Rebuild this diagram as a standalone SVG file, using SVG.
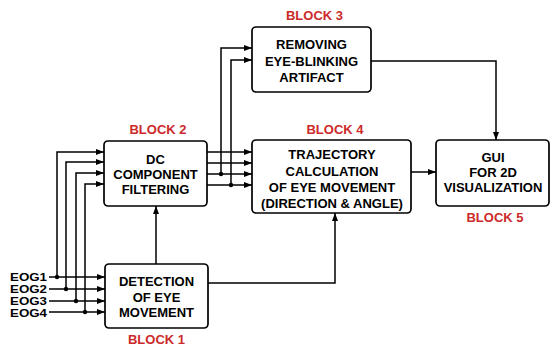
<svg xmlns="http://www.w3.org/2000/svg" width="553" height="347" viewBox="0 0 553 347">
<defs>
<marker id="ah" markerUnits="userSpaceOnUse" markerWidth="8" markerHeight="8" viewBox="0 0 8 8" refX="8" refY="4" orient="auto">
<path d="M0,1 L8,4 L0,7 Z" fill="#000"/>
</marker>
</defs>
<style>
.box{fill:#fff;stroke:#000;stroke-width:1.7}
.t{font-family:"Liberation Sans",Arial,sans-serif;font-weight:bold;font-size:13px;fill:#000;text-anchor:middle}
.lbl{font-family:"Liberation Sans",Arial,sans-serif;font-weight:bold;font-size:13px;fill:#cc2a2a;text-anchor:middle}
.eog{font-family:"Liberation Sans",Arial,sans-serif;font-weight:bold;font-size:10.5px;fill:#000}
.c{fill:none;stroke:#000;stroke-width:1.5}
.a{marker-end:url(#ah)}
.dot{fill:#000}
</style>
<rect width="553" height="347" fill="#fff"/>
<g id="connectors">
<path class="c a" d="M49 277 H105"/>
<path class="c a" d="M49 289 H105"/>
<path class="c a" d="M49 301 H105"/>
<path class="c a" d="M49 312 H105"/>
<path class="c a" d="M57 277 V152 H104"/>
<path class="c a" d="M66 289 V162 H104"/>
<path class="c a" d="M76 301 V173 H104"/>
<path class="c a" d="M85 312 V184 H104"/>
<path class="c a" d="M207 152 H252"/>
<path class="c a" d="M207 163 H252"/>
<path class="c a" d="M207 174 H252"/>
<path class="c a" d="M207 185 H252"/>
<path class="c a" d="M221 174 V48 H252"/>
<path class="c a" d="M231 185 V60 H252"/>
<path class="c a" d="M156 264 V206"/>
<path class="c a" d="M208 283 H335 V213"/>
<path class="c a" d="M411 172 H436"/>
<path class="c a" d="M371 61 H496 V140"/>
<circle class="dot" cx="57" cy="277" r="2.2"/>
<circle class="dot" cx="66" cy="289" r="2.2"/>
<circle class="dot" cx="76" cy="301" r="2.2"/>
<circle class="dot" cx="85" cy="312" r="2.2"/>
<circle class="dot" cx="221" cy="174" r="2.2"/>
<circle class="dot" cx="231" cy="185" r="2.2"/>
</g>
<g id="eog-labels">
<text class="eog" x="10" y="281" textLength="37" lengthAdjust="spacingAndGlyphs">EOG1</text>
<text class="eog" x="10" y="293" textLength="37" lengthAdjust="spacingAndGlyphs">EOG2</text>
<text class="eog" x="10" y="305" textLength="37" lengthAdjust="spacingAndGlyphs">EOG3</text>
<text class="eog" x="10" y="317" textLength="37" lengthAdjust="spacingAndGlyphs">EOG4</text>
</g>
<g id="block1">
<rect class="box" x="105" y="264" width="103" height="64" rx="4"/>
<text class="t" x="156.5" y="285.7">DETECTION</text>
<text class="t" x="156.5" y="301.5">OF EYE</text>
<text class="t" x="156.5" y="316.7">MOVEMENT</text>
<text class="lbl" x="156.5" y="343.5">BLOCK 1</text>
</g>
<g id="block2">
<rect class="box" x="104" y="141" width="103" height="65" rx="4"/>
<text class="t" x="155.5" y="163.5">DC</text>
<text class="t" x="155.5" y="178.5">COMPONENT</text>
<text class="t" x="155.5" y="193.5">FILTERING</text>
<text class="lbl" x="158" y="133.5">BLOCK 2</text>
</g>
<g id="block3">
<rect class="box" x="252" y="27" width="119" height="65" rx="4"/>
<text class="t" x="311.5" y="48.7">REMOVING</text>
<text class="t" x="311.5" y="65.5">EYE-BLINKING</text>
<text class="t" x="311.5" y="81.7">ARTIFACT</text>
<text class="lbl" x="314.5" y="19.5">BLOCK 3</text>
</g>
<g id="block4">
<rect class="box" x="252" y="140" width="159" height="73" rx="4"/>
<text class="t" x="332" y="159">TRAJECTORY</text>
<text class="t" x="332" y="175.5">CALCULATION</text>
<text class="t" x="332" y="192">OF EYE MOVEMENT</text>
<text class="t" x="332" y="208">(DIRECTION &amp; ANGLE)</text>
<text class="lbl" x="335" y="133.5">BLOCK 4</text>
</g>
<g id="block5">
<rect class="box" x="436" y="140" width="113" height="66" rx="4"/>
<text class="t" x="493" y="161.7">GUI</text>
<text class="t" x="493" y="176.7">FOR 2D</text>
<text class="t" x="493" y="191.7">VISUALIZATION</text>
<text class="lbl" x="495" y="221.5">BLOCK 5</text>
</g>
</svg>
